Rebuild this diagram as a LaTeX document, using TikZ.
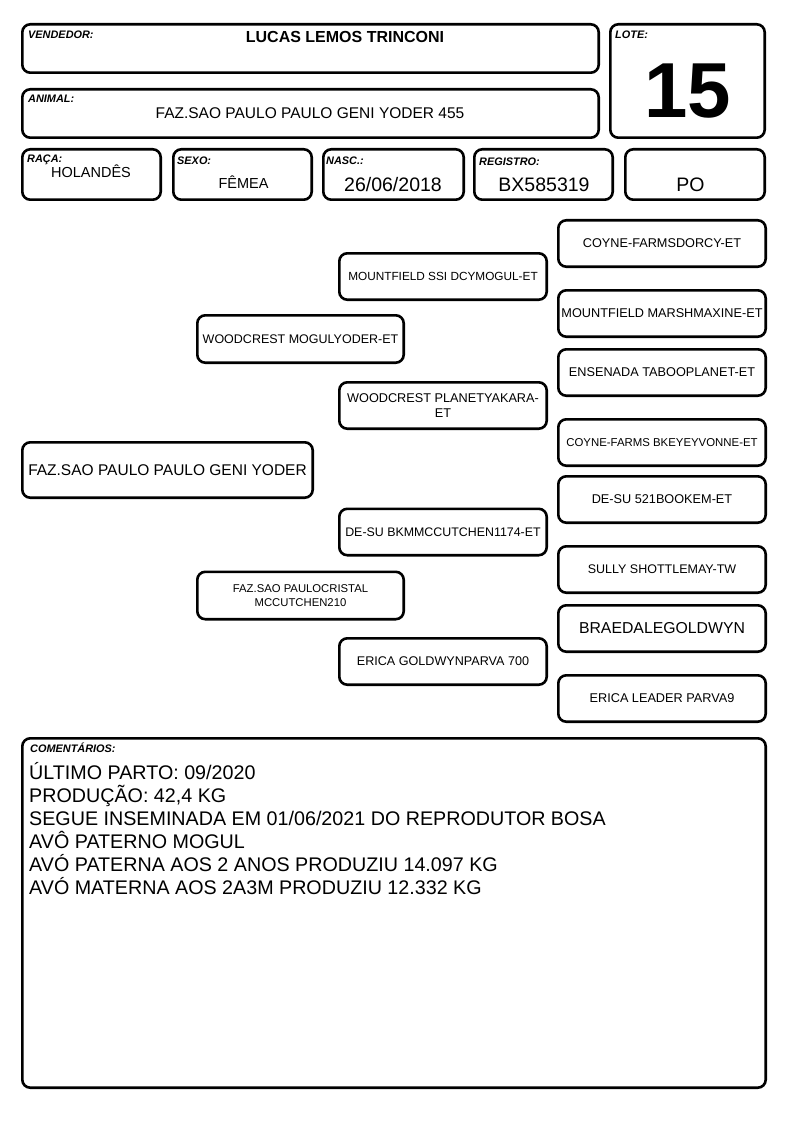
\documentclass[tikz,border=0pt]{standalone}
\usepackage{fontspec}
\setmainfont{Liberation Sans}
\newcommand\fsz[1]{\fontsize{#1}{#1}\selectfont}
\newcommand\fszb[2]{\fontsize{#1}{#2}\selectfont}
\begin{document}
\begin{tikzpicture}[x=1pt,y=-1pt,
  box/.style={draw,line width=2.6pt,rounded corners=8pt,inner sep=0pt,align=center},
  hbox/.style={box,minimum height=48.4pt},
  fbox/.style={box,minimum height=50.4pt},
  lvtwo/.style={box,minimum width=206.4pt,minimum height=47.4pt},
  lvthree/.style={box,minimum width=207.4pt,minimum height=46.4pt},
  lvfour/.style={box,minimum width=207.4pt,minimum height=46.4pt,font=\fsz{12.7}},
  lbl/.style={anchor=base west,inner sep=0pt,font=\bfseries\itshape\fsz{10.9}},
  val/.style={anchor=base,inner sep=0pt}]
\useasboundingbox (0,0) rectangle (794,1123);

% header boxes
\node[hbox,minimum width=576.4pt] (vend) at (310.5,48.5) {};
\node[box,minimum width=154.4pt,minimum height=113.4pt] (lote) at (687.5,81) {};
\node[hbox,minimum width=576.4pt] (anim) at (310.5,113.5) {};
\node[fbox,minimum width=138.4pt] (raca) at (91.5,174.5) {};
\node[fbox,minimum width=138.4pt] (sexo) at (242.5,174.5) {};
\node[fbox,minimum width=140.4pt] (nasc) at (393.5,174.5) {};
\node[fbox,minimum width=138.4pt] (reg) at (543.5,174.5) {};
\node[fbox,minimum width=139.4pt] (po) at (695,174.5) {};

% labels
\node[lbl] (lvend) at (28,38.5) {VENDEDOR:};
\node[lbl] (llote) at (615,38.5) {LOTE:};
\node[lbl] (lanim) at (28,103) {ANIMAL:};
\node[lbl] (lraca) at (27,163) {RAÇA:};
\node[lbl] (lsexo) at (177,164.5) {SEXO:};
\node[lbl] (lnasc) at (326,164.5) {NASC.:};
\node[lbl] (lreg) at (479,165.5) {REGISTRO:};

% values
\node[val,font=\bfseries\fsz{16}] (tvend) at (345,43) {LUCAS LEMOS TRINCONI};
\node[val,font=\fsz{15.5}] (tanim) at (310,119) {FAZ.SAO PAULO PAULO GENI YODER 455};
\node[val,font=\bfseries\fsz{78}] (tlote) at (688,118) {15};
\node[val,font=\fsz{14.5}] (traca) at (91,178) {HOLANDÊS};
\node[val,font=\fsz{14.5}] (tsexo) at (243.5,189) {FÊMEA};
\node[val,font=\fsz{19.5}] (tnasc) at (393,192) {26/06/2018};
\node[val,font=\fsz{19.5}] (treg) at (544,192) {BX585319};
\node[val,font=\fsz{19.5}] (tpo) at (690.5,192) {PO};

% pedigree
\node[box,minimum width=290.4pt,minimum height=55.4pt,font=\fsz{15.5}] (main) at (167.5,470) {FAZ.SAO PAULO PAULO GENI YODER};

\node[lvtwo,font=\fsz{12.5}] (p) at (300.5,339) {WOODCREST MOGULYODER-ET};
\node[lvtwo,font=\fszb{11.3}{14.6}] (m) at (300.5,595.5) {FAZ.SAO PAULOCRISTAL\\MCCUTCHEN210};

\node[lvthree,font=\fsz{11.8}] (pp) at (443,276.5) {MOUNTFIELD SSI DCYMOGUL-ET};
\node[lvthree,font=\fszb{12.7}{15.7}] (pm) at (443,405.5) {WOODCREST PLANETYAKARA-\\ET};
\node[lvthree,font=\fsz{12.4}] (mp) at (443,532) {DE-SU BKMMCCUTCHEN1174-ET};
\node[lvthree,font=\fsz{12.6}] (mm) at (443,661.5) {ERICA GOLDWYNPARVA 700};

\node[lvfour] (ppp) at (662,243.5) {COYNE-FARMSDORCY-ET};
\node[lvfour] (ppm) at (662,313.5) {MOUNTFIELD MARSHMAXINE-ET};
\node[lvfour] (pmp) at (662,372.5) {ENSENADA TABOOPLANET-ET};
\node[lvfour,font=\fsz{11.4}] (pmm) at (662,442.5) {COYNE-FARMS BKEYEYVONNE-ET};
\node[lvfour] (mpp) at (662,499.5) {DE-SU 521BOOKEM-ET};
\node[lvfour,font=\fsz{12.5}] (mpm) at (662,569.5) {SULLY SHOTTLEMAY-TW};
\node[lvfour,font=\fsz{15.8}] (mmp) at (662,628.5) {BRAEDALEGOLDWYN};
\node[lvfour] (mmm) at (662,698.5) {ERICA LEADER PARVA9};

% comments
\node[box,minimum width=743.4pt,minimum height=349.4pt] (com) at (394,913) {};
\node[lbl] (lcom) at (30,752.5) {COMENTÁRIOS:};
\node[anchor=north west,inner sep=0pt,align=left,font=\fszb{19.7}{23}] (tcom) at (29,762) {ÚLTIMO PARTO: 09/2020\\PRODUÇÃO: 42,4 KG\\SEGUE INSEMINADA EM 01/06/2021 DO REPRODUTOR BOSA\\AVÔ PATERNO MOGUL\\AVÓ PATERNA AOS 2 ANOS PRODUZIU 14.097 KG\\AVÓ MATERNA AOS 2A3M PRODUZIU 12.332 KG};
\end{tikzpicture}
\end{document}
